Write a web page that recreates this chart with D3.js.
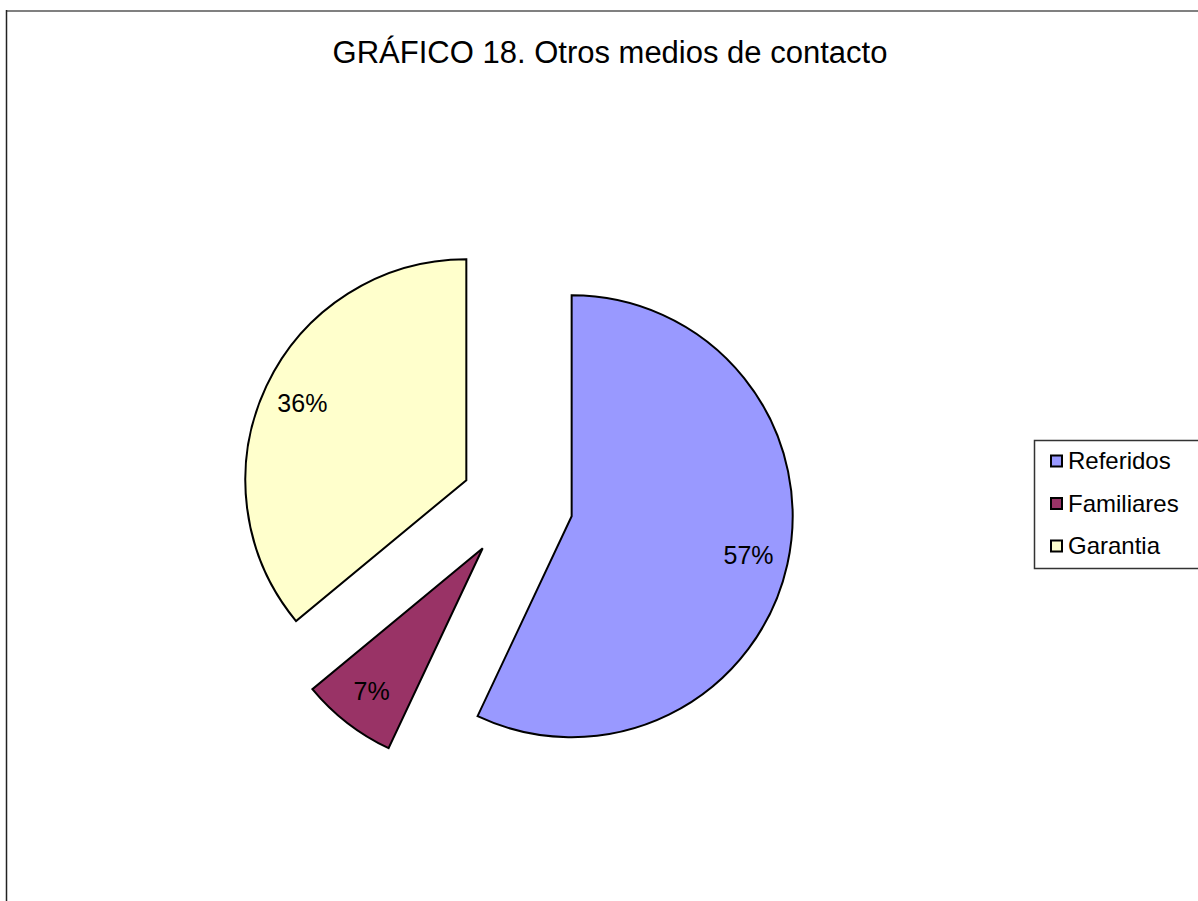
<!DOCTYPE html>
<html>
<head>
<meta charset="utf-8">
<script src="https://cdn.jsdelivr.net/npm/d3@7"></script>
<style>
  body { margin: 0; background: #fff; }
  text { font-family: "Liberation Sans", Arial, sans-serif; fill: #000; }
</style>
</head>
<body>
<svg id="chart"></svg>
<script>
var categories = ["Referidos", "Familiares", "Garantia"];
var values = [57, 7, 36];
var labels = ["57%", "7%", "36%"];
var colors = ["#9999FF", "#993366", "#FFFFCC"];
var title = "GRÁFICO 18. Otros medios de contacto";

var width = 1198, height = 901;

var svg = d3.select("#chart")
    .attr("width", width)
    .attr("height", height);

// outer frame (only top and left show)
svg.append("line")
    .attr("x1", 6).attr("y1", 11).attr("x2", width).attr("y2", 11)
    .attr("stroke", "#808080").attr("stroke-width", 2);
svg.append("line")
    .attr("x1", 6.5).attr("y1", 10).attr("x2", 6.5).attr("y2", height)
    .attr("stroke", "#222").attr("stroke-width", 1.5);

svg.append("text")
    .attr("x", 610)
    .attr("y", 63)
    .style("text-anchor", "middle")
    .style("font-size", "31px")
    .text(title);

var data = categories.map(function(c, i) {
  return {name: c, value: values[i], label: labels[i], color: colors[i]};
});

var radius = 221,
    explode = 56,
    cx = 517, cy = 504;

var pie = d3.pie().sort(null).value(function(d) { return d.value; });
var arc = d3.arc().innerRadius(0).outerRadius(radius);

var slices = svg.append("g")
    .attr("transform", "translate(" + cx + "," + cy + ")")
  .selectAll("g")
    .data(pie(data))
  .enter().append("g")
    .attr("transform", function(d) {
      var a = (d.startAngle + d.endAngle) / 2;
      return "translate(" + (explode * Math.sin(a)) + "," + (-explode * Math.cos(a)) + ")";
    });

slices.append("path")
    .attr("d", arc)
    .attr("fill", function(d) { return d.data.color; })
    .attr("stroke", "#000")
    .attr("stroke-width", 2)
    .attr("stroke-linejoin", "miter");

slices.append("text")
    .attr("transform", function(d) {
      var a = (d.startAngle + d.endAngle) / 2, r = radius * 0.82;
      return "translate(" + (r * Math.sin(a)) + "," + (-r * Math.cos(a)) + ")";
    })
    .attr("dy", "0.35em")
    .style("text-anchor", "middle")
    .style("font-size", "25px")
    .text(function(d) { return d.data.label; });

// legend
var legend = svg.append("g").attr("transform", "translate(1034,440)");
legend.append("rect")
    .attr("x", 0.5).attr("y", 0.5)
    .attr("width", 200).attr("height", 128)
    .attr("fill", "#fff")
    .attr("stroke", "#333").attr("stroke-width", 1.5);

var rows = legend.selectAll(".row")
    .data(data)
  .enter().append("g")
    .attr("class", "row")
    .attr("transform", function(d, i) { return "translate(0," + (21 + i * 42.5) + ")"; });

rows.append("rect")
    .attr("x", 17).attr("y", -5.5)
    .attr("width", 11).attr("height", 11)
    .attr("fill", function(d) { return d.color; })
    .attr("stroke", "#000").attr("stroke-width", 2);

rows.append("text")
    .attr("x", 34)
    .attr("dy", "0.35em")
    .style("font-size", "24px")
    .text(function(d) { return d.name; });
</script>
</body>
</html>
